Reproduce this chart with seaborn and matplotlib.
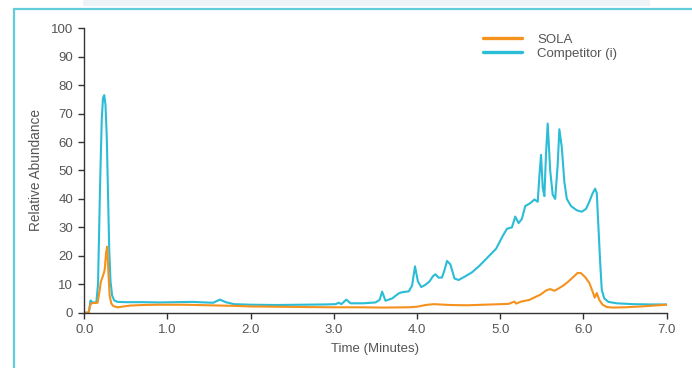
import numpy as np
import pandas as pd
import matplotlib
matplotlib.use("Agg")
import matplotlib.pyplot as plt
from matplotlib.lines import Line2D
import seaborn as sns

# Chromatogram traces (time in minutes, relative abundance in %)
sola_time = [0, 0.05, 0.07, 0.09, 0.12, 0.16, 0.18, 0.20, 0.225, 0.245, 0.262, 0.275,
             0.29, 0.305, 0.325, 0.35, 0.40, 0.45, 0.55, 0.7, 0.9, 1.2, 1.5, 1.8, 2.0,
             2.3, 2.6, 3.0, 3.3, 3.6, 3.9, 4.0, 4.1, 4.2, 4.4, 4.6, 4.8, 5.0, 5.1, 5.17,
             5.19, 5.25, 5.35, 5.42, 5.48, 5.55, 5.6, 5.65, 5.7, 5.76, 5.82, 5.88, 5.93,
             5.97, 6.02, 6.07, 6.11, 6.135, 6.16, 6.19, 6.23, 6.28, 6.35, 6.5, 6.7, 6.9, 7.0]
sola_abund = [0, 0, 2.5, 3.4, 3.4, 3.5, 7, 11, 13, 15, 21, 23.2,
              14, 6, 3.2, 2.3, 1.9, 2.1, 2.5, 2.7, 2.8, 2.8, 2.6, 2.4, 2.2,
              2.1, 2.0, 1.9, 1.9, 1.8, 1.9, 2.1, 2.7, 3.0, 2.7, 2.6, 2.8, 3.0, 3.1, 3.9,
              3.2, 3.9, 4.5, 5.5, 6.3, 7.8, 8.3, 7.7, 8.5, 9.6, 11, 12.6, 14,
              13.9, 12.5, 10.5, 7.4, 5.3, 6.9, 4.5, 2.8, 2.0, 1.8, 1.9, 2.2, 2.6, 2.8]

comp_time = [0, 0.055, 0.075, 0.09, 0.11, 0.145, 0.165, 0.19, 0.21, 0.225, 0.24, 0.255,
             0.27, 0.285, 0.30, 0.315, 0.335, 0.36, 0.40, 0.5, 0.7, 0.9, 1.1, 1.3, 1.45,
             1.55, 1.63, 1.7, 1.8, 2.0, 2.3, 2.6, 2.9, 3.02, 3.06, 3.09, 3.15, 3.2, 3.35,
             3.5, 3.55, 3.58, 3.62, 3.7, 3.78, 3.82, 3.9, 3.94, 3.975, 4.01, 4.05, 4.1,
             4.15, 4.19, 4.22, 4.26, 4.3, 4.33, 4.36, 4.4, 4.45, 4.5, 4.58, 4.66, 4.75,
             4.85, 4.95, 5.03, 5.08, 5.14, 5.18, 5.22, 5.26, 5.3, 5.36, 5.41, 5.45, 5.47,
             5.49, 5.51, 5.53, 5.55, 5.57, 5.6, 5.63, 5.66, 5.69, 5.71, 5.74, 5.77, 5.8,
             5.85, 5.92, 5.98, 6.03, 6.07, 6.11, 6.14, 6.16, 6.18, 6.2, 6.22, 6.25, 6.3,
             6.4, 6.6, 6.8, 7.0]
comp_abund = [0, 0, 4.3, 3.8, 3.6, 3.6, 10, 45, 68, 75.5, 76.5, 73,
              62, 42, 22, 11, 6, 4.3, 3.8, 3.7, 3.7, 3.6, 3.7, 3.8, 3.6,
              3.5, 4.6, 3.7, 3.0, 2.8, 2.7, 2.8, 2.9, 3.0, 3.5, 3.0, 4.6, 3.3, 3.3,
              3.6, 4.5, 7.4, 4.2, 5.0, 6.8, 7.2, 7.5, 9.5, 16.3, 11, 9, 9.8,
              11, 12.8, 13.5, 12.3, 12.4, 15, 18.2, 17, 12, 11.5, 12.8, 14.2, 16.5,
              19.5, 22.5, 27, 29.5, 30, 33.8, 31.5, 33, 37.5, 38.5, 39.8, 39, 48,
              55.5, 44, 41, 56, 66.5, 50, 41.5, 40, 52, 64.5, 58, 46, 40,
              37.5, 36, 35.5, 36.5, 39, 42, 43.6, 42, 30, 18, 8, 5, 3.8,
              3.3, 3.0, 2.9, 2.9]

series_names = ["SOLA", "Competitor (i)"]
series_colors = ["#F5921E", "#2BBCD6"]
x_ticks = [0, 1, 2, 3, 4, 5, 6, 7]
y_ticks = list(range(0, 101, 10))

df = pd.concat([
    pd.DataFrame({"Time": comp_time, "Abundance": comp_abund, "Series": series_names[1]}),
    pd.DataFrame({"Time": sola_time, "Abundance": sola_abund, "Series": series_names[0]}),
], ignore_index=True)

sns.set_style("ticks")
plt.rcParams["font.family"] = ["Liberation Sans", "DejaVu Sans"]

text_col = "#555555"
axis_col = "#333333"

fig = plt.figure(figsize=(6.92, 3.68), dpi=100)
ax = fig.add_axes([0.1218, 0.1503, 0.8416, 0.7728])

sns.lineplot(data=df, x="Time", y="Abundance", hue="Series",
             hue_order=[series_names[1], series_names[0]],
             palette={series_names[0]: series_colors[0], series_names[1]: series_colors[1]},
             linewidth=1.5, ax=ax, legend=False, sort=False, estimator=None)

ax.set_xlim(0, 7)
ax.set_ylim(0, 100)
ax.set_xticks(x_ticks)
ax.set_xticklabels([f"{v:.1f}" for v in x_ticks])
ax.set_yticks(y_ticks)
ax.set_yticklabels([str(v) for v in y_ticks])
ax.tick_params(axis="both", direction="out", length=4, width=1, color=axis_col,
               labelsize=9.5, labelcolor=text_col, pad=4)
sns.despine(ax=ax)
for side in ("left", "bottom"):
    ax.spines[side].set_color(axis_col)
    ax.spines[side].set_linewidth(1.0)

ax.set_xlabel("Time (Minutes)", fontsize=9.5, color=text_col, labelpad=5)
ax.set_ylabel("Relative Abundance", fontsize=9.8, color=text_col, labelpad=6)

handles = [Line2D([0], [0], color=series_colors[0], lw=2.4),
           Line2D([0], [0], color=series_colors[1], lw=2.4)]
leg = ax.legend(handles, series_names, loc="upper left",
                bbox_to_anchor=(0.676, 1.0), frameon=False, fontsize=9.5,
                handlelength=2.9, handletextpad=1.2, labelspacing=0.15,
                borderaxespad=0.0)
for t in leg.get_texts():
    t.set_color(text_col)

# panel frame
frame_col = "#62CCDB"
x_edge = 14 / 692
y_edge = 1 - 9 / 368
fig.add_artist(Line2D([x_edge, x_edge], [0, y_edge], color=frame_col, lw=1.6,
                      transform=fig.transFigure))
fig.add_artist(Line2D([x_edge, 1.0], [y_edge, y_edge], color=frame_col, lw=1.6,
                      transform=fig.transFigure))
# faint band above the frame
fig.add_artist(plt.Rectangle((0.12, 1 - 6 / 368), 0.82, 6 / 368, color="#EEF3F8",
                             lw=0, transform=fig.transFigure))

fig.savefig("out.png", dpi=100)
